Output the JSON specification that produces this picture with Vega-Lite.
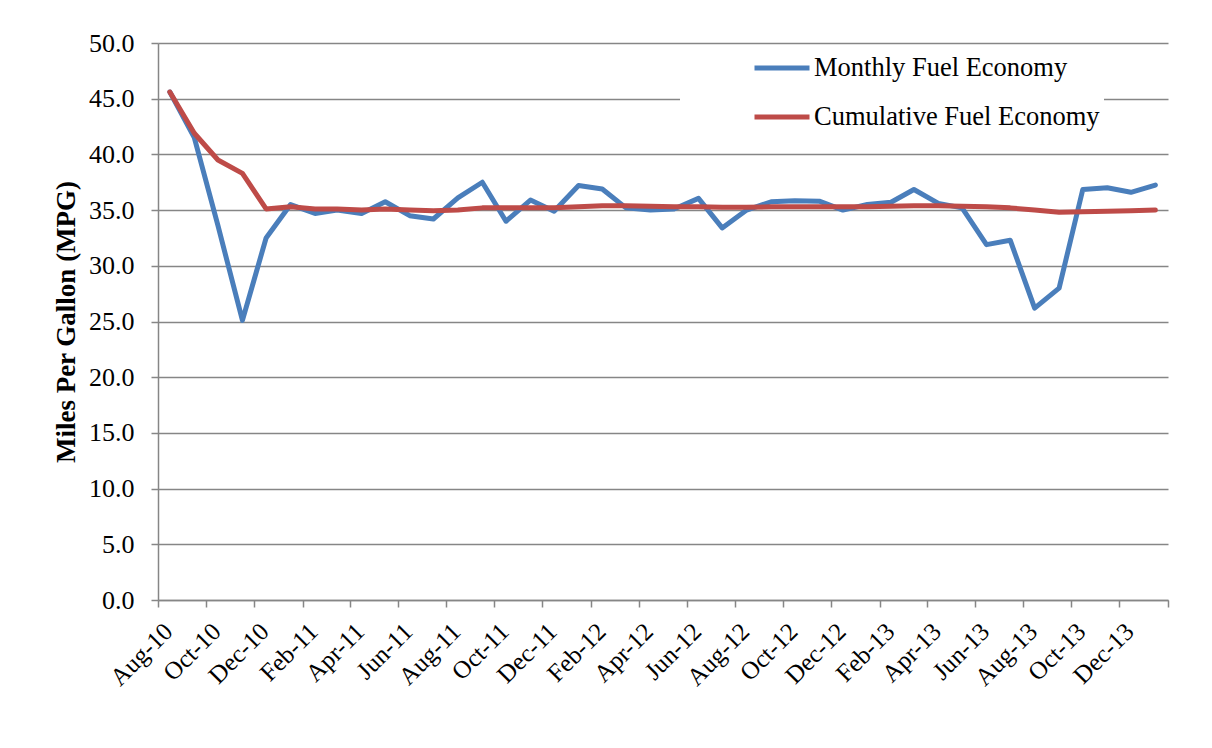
{
  "$schema": "https://vega.github.io/schema/vega-lite/v6.json",
  "width": 1010,
  "height": 557,
  "autosize": "none",
  "padding": {"left": 158, "top": 43, "right": 44, "bottom": 148},
  "background": "white",
  "config": {"view": {"stroke": null}, "font": "Liberation Serif"},
  "data": {"values": [
    {"date": "2010/08/16", "monthly": 45.6, "cumulative": 45.6},
    {"date": "2010/09/16", "monthly": 41.5, "cumulative": 41.9},
    {"date": "2010/10/16", "monthly": 33.6, "cumulative": 39.5},
    {"date": "2010/11/16", "monthly": 25.1, "cumulative": 38.3},
    {"date": "2010/12/16", "monthly": 32.5, "cumulative": 35.1},
    {"date": "2011/01/16", "monthly": 35.5, "cumulative": 35.3},
    {"date": "2011/02/16", "monthly": 34.7, "cumulative": 35.1},
    {"date": "2011/03/16", "monthly": 35.0, "cumulative": 35.1},
    {"date": "2011/04/16", "monthly": 34.7, "cumulative": 35.0},
    {"date": "2011/05/16", "monthly": 35.75, "cumulative": 35.1},
    {"date": "2011/06/16", "monthly": 34.5, "cumulative": 35.0},
    {"date": "2011/07/16", "monthly": 34.2, "cumulative": 34.95},
    {"date": "2011/08/16", "monthly": 36.1, "cumulative": 35.0},
    {"date": "2011/09/16", "monthly": 37.5, "cumulative": 35.2},
    {"date": "2011/10/16", "monthly": 34.0, "cumulative": 35.2},
    {"date": "2011/11/16", "monthly": 35.9, "cumulative": 35.2},
    {"date": "2011/12/16", "monthly": 34.9, "cumulative": 35.2},
    {"date": "2012/01/16", "monthly": 37.2, "cumulative": 35.3},
    {"date": "2012/02/15", "monthly": 36.9, "cumulative": 35.4},
    {"date": "2012/03/16", "monthly": 35.2, "cumulative": 35.4},
    {"date": "2012/04/16", "monthly": 35.0, "cumulative": 35.35},
    {"date": "2012/05/16", "monthly": 35.1, "cumulative": 35.3},
    {"date": "2012/06/16", "monthly": 36.05, "cumulative": 35.3},
    {"date": "2012/07/16", "monthly": 33.4, "cumulative": 35.25},
    {"date": "2012/08/16", "monthly": 35.0, "cumulative": 35.25},
    {"date": "2012/09/16", "monthly": 35.75, "cumulative": 35.3},
    {"date": "2012/10/16", "monthly": 35.85, "cumulative": 35.3},
    {"date": "2012/11/16", "monthly": 35.8, "cumulative": 35.3},
    {"date": "2012/12/16", "monthly": 35.0, "cumulative": 35.3},
    {"date": "2013/01/16", "monthly": 35.5, "cumulative": 35.3},
    {"date": "2013/02/15", "monthly": 35.7, "cumulative": 35.35},
    {"date": "2013/03/16", "monthly": 36.85, "cumulative": 35.4},
    {"date": "2013/04/16", "monthly": 35.6, "cumulative": 35.4},
    {"date": "2013/05/16", "monthly": 35.2, "cumulative": 35.35},
    {"date": "2013/06/16", "monthly": 31.9, "cumulative": 35.3},
    {"date": "2013/07/16", "monthly": 32.3, "cumulative": 35.2},
    {"date": "2013/08/16", "monthly": 26.2, "cumulative": 35.0},
    {"date": "2013/09/16", "monthly": 28.0, "cumulative": 34.8},
    {"date": "2013/10/16", "monthly": 36.85, "cumulative": 34.85},
    {"date": "2013/11/16", "monthly": 37.0, "cumulative": 34.9},
    {"date": "2013/12/16", "monthly": 36.6, "cumulative": 34.95},
    {"date": "2014/01/16", "monthly": 37.25, "cumulative": 35.0}
  ]},
  "transform": [{"fold": ["monthly", "cumulative"], "as": ["series", "mpg"]}],
  "mark": {"type": "line", "strokeWidth": 5, "strokeJoin": "round", "strokeCap": "round"},
  "encoding": {
    "x": {
      "field": "date", "type": "temporal",
      "scale": {"domain": [{"year": 2010, "month": 8, "date": 1}, {"year": 2014, "month": 2, "date": 1}], "nice": false},
      "axis": {
        "title": null,
        "values": [
          {"year": 2010, "month": 8, "date": 1}, {"year": 2010, "month": 10, "date": 1}, {"year": 2010, "month": 12, "date": 1},
          {"year": 2011, "month": 2, "date": 1}, {"year": 2011, "month": 4, "date": 1}, {"year": 2011, "month": 6, "date": 1},
          {"year": 2011, "month": 8, "date": 1}, {"year": 2011, "month": 10, "date": 1}, {"year": 2011, "month": 12, "date": 1},
          {"year": 2012, "month": 2, "date": 1}, {"year": 2012, "month": 4, "date": 1}, {"year": 2012, "month": 6, "date": 1},
          {"year": 2012, "month": 8, "date": 1}, {"year": 2012, "month": 10, "date": 1}, {"year": 2012, "month": 12, "date": 1},
          {"year": 2013, "month": 2, "date": 1}, {"year": 2013, "month": 4, "date": 1}, {"year": 2013, "month": 6, "date": 1},
          {"year": 2013, "month": 8, "date": 1}, {"year": 2013, "month": 10, "date": 1}, {"year": 2013, "month": 12, "date": 1},
          {"year": 2014, "month": 2, "date": 1}
        ],
        "labelExpr": "year(datum.value) == 2014 ? '' : timeFormat(datum.value, '%b-%y')",
        "grid": false,
        "tickSize": 7, "tickWidth": 1.5, "tickColor": "#868686",
        "domainColor": "#868686", "domainWidth": 1.5,
        "labelAngle": -45, "labelAlign": "right", "labelBaseline": "middle",
        "labelFont": "Liberation Serif", "labelFontSize": 25, "labelColor": "black",
        "labelPadding": 20, "labelOffset": 10,
        "labelOverlap": false, "labelBound": false, "labelFlush": false
      }
    },
    "y": {
      "field": "mpg", "type": "quantitative",
      "scale": {"domain": [0, 50], "nice": false},
      "axis": {
        "title": "Miles Per Gallon (MPG)",
        "values": [0, 5, 10, 15, 20, 25, 30, 35, 40, 45, 50],
        "format": ".1f",
        "grid": true, "gridColor": "#868686", "gridWidth": 1.5,
        "tickSize": 7, "tickWidth": 1.5, "tickColor": "#868686",
        "domainColor": "#868686", "domainWidth": 1.5,
        "labelFont": "Liberation Serif", "labelFontSize": 26, "labelColor": "black", "labelPadding": 17,
        "titleFont": "Liberation Serif", "titleFontSize": 27, "titleFontWeight": "bold", "titleColor": "black", "titlePadding": 8
      }
    },
    "color": {
      "field": "series", "type": "nominal",
      "scale": {"domain": ["monthly", "cumulative"], "range": ["#4A7EBB", "#BE4B48"]},
      "legend": {
        "title": null, "orient": "none", "legendX": 522, "legendY": 7.5,
        "fillColor": "white", "padding": 4,
        "symbolType": "M-2.5,0H2.5", "symbolStrokeWidth": 5, "symbolSize": 484, "symbolOffset": 84.5,
        "labelFont": "Liberation Serif", "labelFontSize": 26.5, "labelColor": "black", "labelOffset": 18.5, "labelLimit": 0,
        "rowPadding": 22,
        "labelExpr": "datum.label == 'monthly' ? 'Monthly Fuel Economy' : 'Cumulative Fuel Economy'"
      }
    }
  }
}
